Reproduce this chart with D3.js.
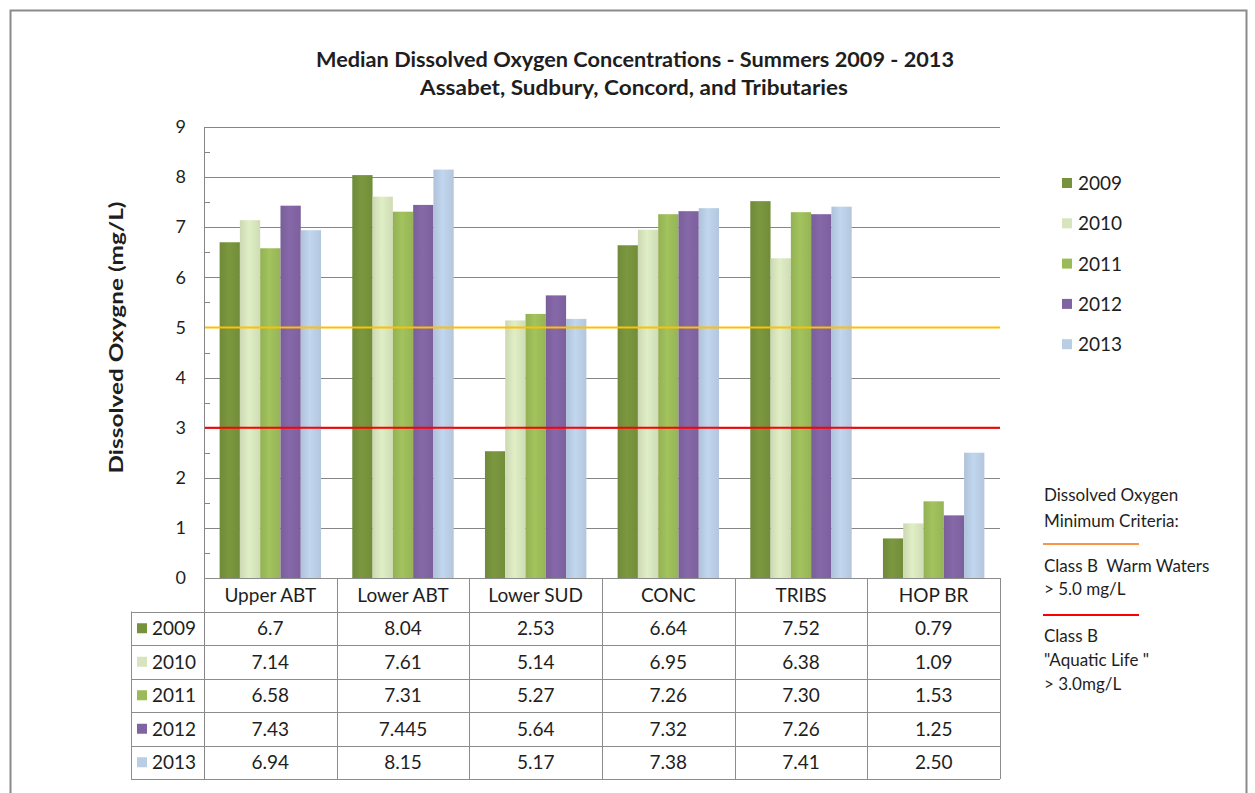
<!DOCTYPE html>
<html>
<head>
<meta charset="utf-8">
<script src="https://cdn.jsdelivr.net/npm/d3@7"></script>
<style>
  html, body { margin: 0; padding: 0; background: #fff; }
  svg { display: block; font-family: Lato, "Open Sans", sans-serif; }
</style>
</head>
<body>
<svg id="chart" width="1255" height="793"></svg>
<script>
// Sampling sites along the rivers
const categories = ["Upper ABT", "Lower ABT", "Lower SUD", "CONC", "TRIBS", "HOP BR"];
const years = ["2009", "2010", "2011", "2012", "2013"];

// Median summer dissolved oxygen (mg/L), one array per year
const values2009 = [6.7, 8.04, 2.53, 6.64, 7.52, 0.79];
const values2010 = [7.14, 7.61, 5.14, 6.95, 6.38, 1.09];
const values2011 = [6.58, 7.31, 5.27, 7.26, 7.30, 1.53];
const values2012 = [7.43, 7.445, 5.64, 7.32, 7.26, 1.25];
const values2013 = [6.94, 8.15, 5.17, 7.38, 7.41, 2.50];

// Table text as printed for each year
const labels2009 = ["6.7", "8.04", "2.53", "6.64", "7.52", "0.79"];
const labels2010 = ["7.14", "7.61", "5.14", "6.95", "6.38", "1.09"];
const labels2011 = ["6.58", "7.31", "5.27", "7.26", "7.30", "1.53"];
const labels2012 = ["7.43", "7.445", "5.64", "7.32", "7.26", "1.25"];
const labels2013 = ["6.94", "8.15", "5.17", "7.38", "7.41", "2.50"];

const yTicks = [0, 1, 2, 3, 4, 5, 6, 7, 8, 9];
const criteria = [
  { value: 5.0, color: "#FFC000", legendColor: "#F79646" },
  { value: 3.0, color: "#FF0000", legendColor: "#FF0000" }
];

const seriesColors = ["#76923C", "#D7E4BD", "#9BBB59", "#8064A2", "#B9CDE5"];

const series = years.map((y, i) => ({
  year: y,
  color: seriesColors[i],
  values: [values2009, values2010, values2011, values2012, values2013][i],
  labels: [labels2009, labels2010, labels2011, labels2012, labels2013][i]
}));

const svg = d3.select("#chart");
const ink = "#1e1e1e";

// outer frame
svg.append("rect")
  .attr("x", 10.5).attr("y", 10.5)
  .attr("width", 1236).attr("height", 800)
  .attr("fill", "none").attr("stroke", "#8a8a8a").attr("stroke-width", 2);

const plot = { left: 204, right: 1000, top: 127, bottom: 578 };

const x0 = d3.scaleBand().domain(categories).range([plot.left, plot.right]).padding(0);
const x1 = d3.scaleBand().domain(years).range([0, x0.bandwidth()]).paddingInner(0).paddingOuter(0.77);
const y = d3.scaleLinear().domain([0, 9]).range([plot.bottom, plot.top]);

// gradients giving the bars a soft sheen
const defs = svg.append("defs");
series.forEach((s, i) => {
  const g = defs.append("linearGradient").attr("id", "grad" + i)
    .attr("x1", "0%").attr("x2", "100%").attr("y1", "0%").attr("y2", "0%");
  const c = d3.color(s.color);
  g.append("stop").attr("offset", "0%").attr("stop-color", c.darker(0.15));
  g.append("stop").attr("offset", "45%").attr("stop-color", c.brighter(0.12));
  g.append("stop").attr("offset", "100%").attr("stop-color", c.darker(0.1));
});

// gridlines
svg.append("g")
  .selectAll("line").data(yTicks.filter(t => t > 0))
  .join("line")
  .attr("x1", plot.left).attr("x2", plot.right)
  .attr("y1", d => Math.round(y(d)) + 0.5).attr("y2", d => Math.round(y(d)) + 0.5)
  .attr("stroke", "#868686").attr("stroke-width", 1);

// bars
const groups = svg.append("g").selectAll("g").data(series).join("g")
  .attr("fill", (d, i) => `url(#grad${i})`);
groups.selectAll("rect")
  .data(s => s.values.map((v, j) => ({ v, cat: categories[j], year: s.year })))
  .join("rect")
  .attr("x", d => x0(d.cat) + x1(d.year))
  .attr("width", x1.bandwidth())
  .attr("y", d => y(d.v))
  .attr("height", d => y(0) - y(d.v));

// criteria lines
svg.append("g").selectAll("line").data(criteria).join("line")
  .attr("x1", plot.left).attr("x2", plot.right)
  .attr("y1", d => y(d.value)).attr("y2", d => y(d.value))
  .attr("stroke", d => d.color).attr("stroke-width", 2);

// y axis with minor half-unit ticks
const yAxis = d3.axisLeft(y).tickValues(yTicks).tickSize(0).tickPadding(18)
  .tickFormat(d3.format("d"));
const ya = svg.append("g").attr("transform", `translate(${plot.left},0)`).call(yAxis);
ya.select(".domain").remove();
ya.selectAll("text").attr("font-size", 18).attr("fill", ink)
  .attr("font-family", "Lato, sans-serif");
svg.append("line")
  .attr("x1", plot.left + 0.5).attr("x2", plot.left + 0.5)
  .attr("y1", plot.top).attr("y2", 779)
  .attr("stroke", "#868686");
const minor = d3.range(0.5, 9, 1);
svg.append("g").selectAll("line").data(minor).join("line")
  .attr("x1", plot.left).attr("x2", plot.left + 6)
  .attr("y1", d => Math.round(y(d)) + 0.5).attr("y2", d => Math.round(y(d)) + 0.5)
  .attr("stroke", "#868686");

// plot top border
svg.append("line")
  .attr("x1", plot.left).attr("x2", plot.right)
  .attr("y1", plot.top + 0.5).attr("y2", plot.top + 0.5)
  .attr("stroke", "#868686");

// y axis title
svg.append("text")
  .attr("transform", `translate(123,${(plot.top + plot.bottom) / 2 - 15}) rotate(-90)`)
  .attr("text-anchor", "middle")
  .attr("font-size", 18).attr("font-weight", "bold").attr("fill", ink)
  .attr("textLength", 272).attr("lengthAdjust", "spacingAndGlyphs")
  .text("Dissolved Oxygne (mg/L)");

// titles
svg.append("text").attr("x", 635).attr("y", 67).attr("text-anchor", "middle")
  .attr("font-size", 20).attr("font-weight", "bold").attr("fill", ink)
  .attr("textLength", 638).attr("lengthAdjust", "spacingAndGlyphs")
  .text("Median Dissolved Oxygen Concentrations - Summers 2009 - 2013");
svg.append("text").attr("x", 634).attr("y", 95).attr("text-anchor", "middle")
  .attr("font-size", 20).attr("font-weight", "bold").attr("fill", ink)
  .attr("textLength", 428).attr("lengthAdjust", "spacingAndGlyphs")
  .text("Assabet, Sudbury, Concord, and Tributaries");

// data table
const rowTop = plot.bottom;
const rowH = 33.5;
const tableLeft = 131;
const tbl = svg.append("g").attr("stroke", "#8c8c8c").attr("fill", "none");
// horizontal lines
d3.range(0, 7).forEach(i => {
  const yy = Math.round(rowTop + i * rowH) + 0.5;
  tbl.append("line")
    .attr("x1", i === 0 ? plot.left : tableLeft).attr("x2", plot.right)
    .attr("y1", yy).attr("y2", yy);
});
// vertical lines
categories.forEach(c => {
  const xx = Math.round(x0(c) + x0.bandwidth()) + 0.5;
  tbl.append("line").attr("x1", xx).attr("x2", xx)
    .attr("y1", rowTop).attr("y2", rowTop + 6 * rowH);
});
tbl.append("line").attr("x1", tableLeft + 0.5).attr("x2", tableLeft + 0.5)
  .attr("y1", rowTop + rowH).attr("y2", rowTop + 6 * rowH);

// category header
svg.append("g").selectAll("text").data(categories).join("text")
  .attr("x", d => x0(d) + x0.bandwidth() / 2)
  .attr("y", rowTop + rowH / 2 + 7)
  .attr("text-anchor", "middle").attr("font-size", 19).attr("fill", ink)
  .text(d => d);

// rows
const rows = svg.append("g").selectAll("g").data(series).join("g")
  .attr("transform", (d, i) => `translate(0,${rowTop + (i + 1) * rowH})`);
rows.append("rect")
  .attr("x", 137).attr("y", rowH / 2 - 5).attr("width", 10).attr("height", 10)
  .attr("fill", d => d.color);
rows.append("text")
  .attr("x", 152).attr("y", rowH / 2 + 7)
  .attr("font-size", 19).attr("fill", ink)
  .text(d => d.year);
rows.selectAll("text.val")
  .data(d => d.labels.map((l, j) => ({ l, cat: categories[j] })))
  .join("text").attr("class", "val")
  .attr("x", d => x0(d.cat) + x0.bandwidth() / 2)
  .attr("y", rowH / 2 + 7)
  .attr("text-anchor", "middle").attr("font-size", 19).attr("fill", ink)
  .text(d => d.l);

// series legend
const leg = svg.append("g").selectAll("g").data(series).join("g")
  .attr("transform", (d, i) => `translate(1062,${184 + i * 40.3})`);
leg.append("rect").attr("x", 0).attr("y", -6).attr("width", 10).attr("height", 10)
  .attr("fill", d => d.color);
leg.append("text").attr("x", 16).attr("y", 6)
  .attr("font-size", 19).attr("fill", ink).text(d => d.year);

// criteria legend
const crit = svg.append("g").attr("font-size", 17).attr("fill", ink);
const critLines = [
  ["Dissolved Oxygen", 501], ["Minimum Criteria:", 527],
  ["Class B  Warm Waters", 572], ["> 5.0 mg/L", 595],
  ["Class B", 642], ["\"Aquatic Life \"", 666], ["> 3.0mg/L", 690]
];
crit.selectAll("text").data(critLines).join("text")
  .attr("x", 1044).attr("y", d => d[1])
  .attr("xml:space", "preserve").style("white-space", "pre")
  .text(d => d[0]);
svg.append("g").selectAll("line").data(criteria).join("line")
  .attr("x1", 1043).attr("x2", 1139)
  .attr("y1", (d, i) => [544, 615][i]).attr("y2", (d, i) => [544, 615][i])
  .attr("stroke", d => d.legendColor).attr("stroke-width", 2);
</script>
</body>
</html>
